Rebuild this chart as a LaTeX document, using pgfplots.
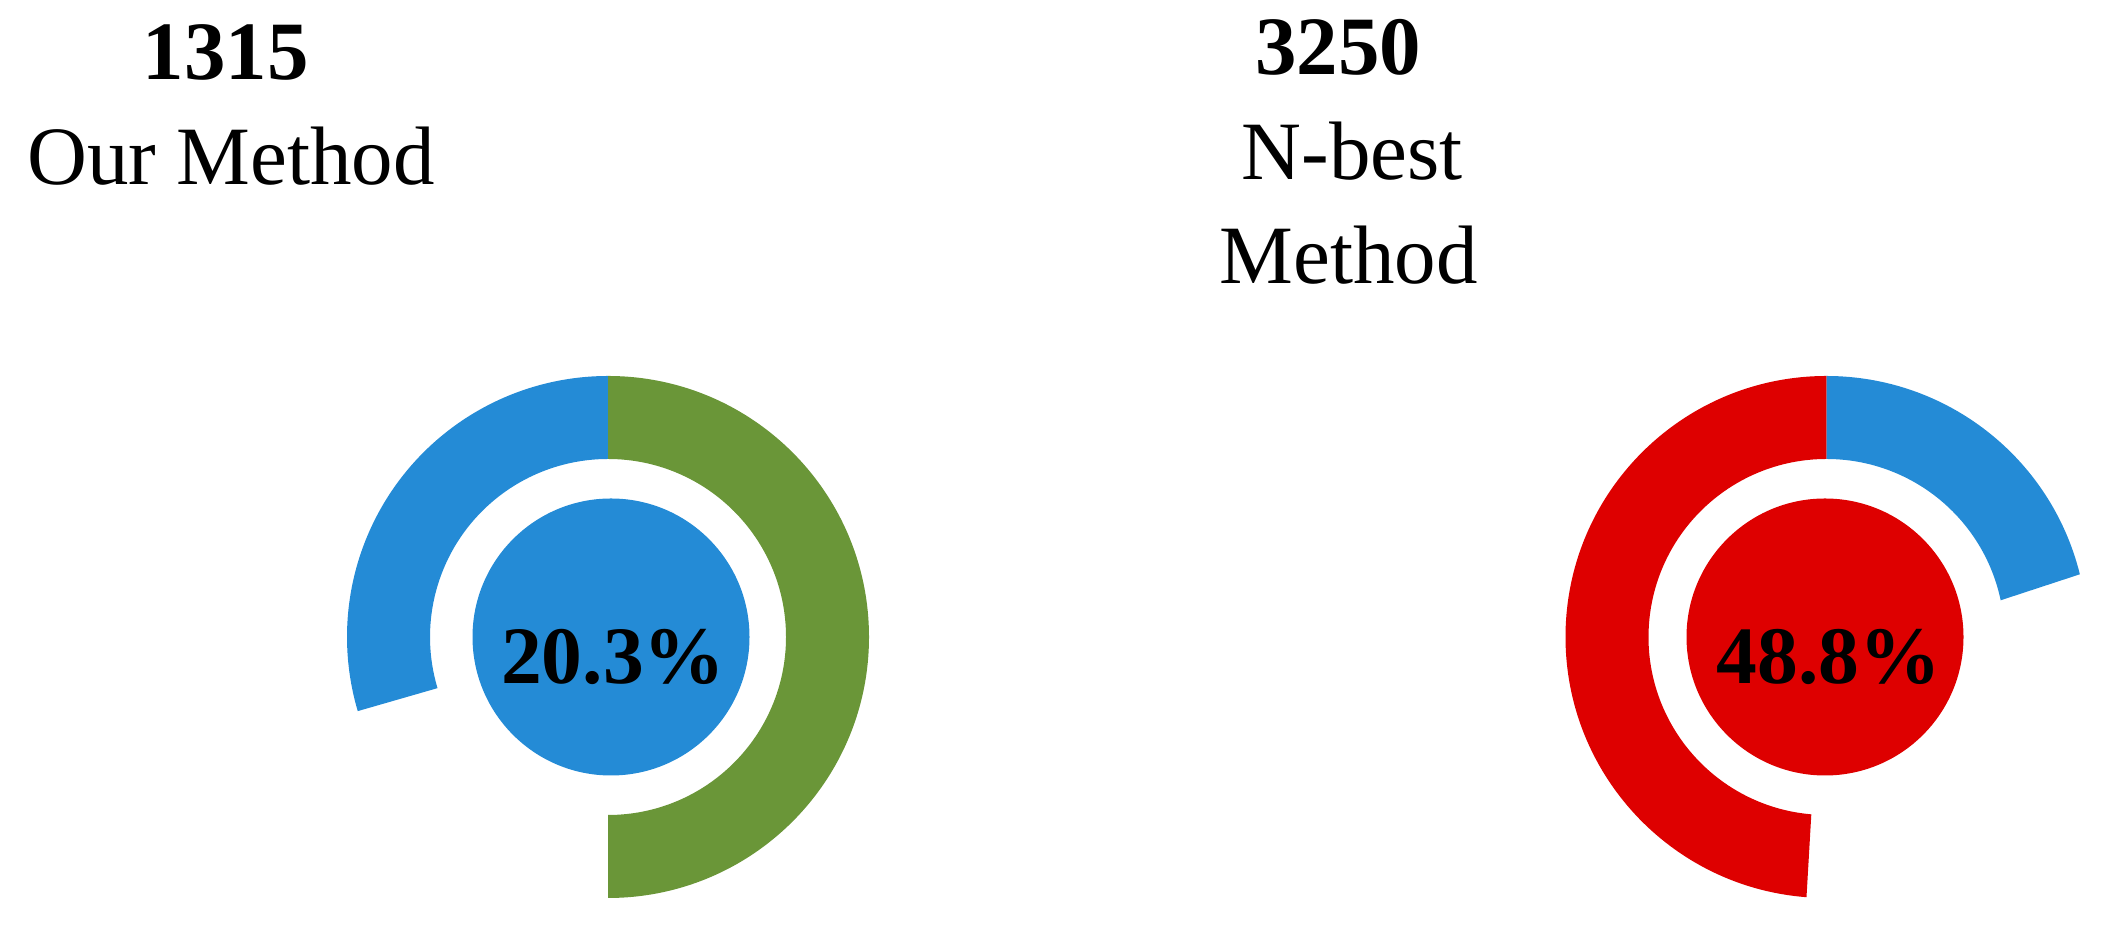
\documentclass[border=0pt]{standalone}
\usepackage{fontspec}
\setmainfont{Liberation Serif}
\usepackage{pgfplots}
\pgfplotsset{compat=1.18}

\definecolor{gblue}{RGB}{36,139,214}
\definecolor{ggreen}{RGB}{106,150,56}
\definecolor{gred}{RGB}{222,0,0}

% ring radii in cm
\def\ro{2.61}
\def\ri{1.78}
\def\rd{1.385}

% cx, cy, start angle, end angle (outer edge), end angle (inner edge), colour
\newcommand{\ringseg}[6]{%
  \begin{scope}[shift={(axis cs:#1,#2)}]
    \fill[#6] (#3:\ro cm)
      arc[start angle=#3, end angle=#4, radius=\ro cm]
      -- (#5:\ri cm)
      arc[start angle=#5, end angle=#3, radius=\ri cm]
      -- cycle;
  \end{scope}}

\newcommand{\titlefont}{\fontsize{23.6}{29.9}\selectfont}
\newcommand{\pctfont}{\fontsize{23.2}{28}\selectfont\bfseries}

\begin{document}
\begin{tikzpicture}
\begin{axis}[
  x=1cm, y=1cm,
  xmin=0, xmax=21.01, ymin=0, ymax=9.27,
  hide axis, clip=false, scale only axis,
]
\addplot[draw=none] coordinates {(0,0) (21.01,9.27)};

% left gauge: our method
\ringseg{6.08}{2.90}{90}{196.5}{196.7}{gblue}
\ringseg{6.08}{2.90}{90}{-90}{-90}{ggreen}
\fill[gblue] (axis cs:6.11,2.90) circle[radius=\rd cm];

% right gauge: N-best method
\ringseg{18.265}{2.90}{90}{265.6}{265.1}{gred}
\ringseg{18.265}{2.90}{90}{13.9}{11.9}{gblue}
\fill[gred] (axis cs:18.25,2.90) circle[radius=\rd cm];

\node[anchor=base, inner sep=0pt, font=\pctfont] at (axis cs:6.133,2.437) {20.3\%};
\node[anchor=base, inner sep=0pt, font=\pctfont] at (axis cs:18.287,2.43) {48.8\%};

\node[anchor=base, inner sep=0pt, font=\titlefont\bfseries] at (axis cs:2.258,8.47) {1315};
\node[anchor=base, inner sep=0pt, font=\titlefont] at (axis cs:2.31,7.42) {Our Method};

\node[anchor=base, inner sep=0pt, font=\titlefont\bfseries] at (axis cs:13.382,8.52) {3250};
\node[anchor=base, inner sep=0pt, font=\titlefont] at (axis cs:13.522,7.47) {N-best};
\node[anchor=base, inner sep=0pt, font=\titlefont] at (axis cs:13.489,6.43) {Method};
\end{axis}
\end{tikzpicture}
\end{document}
